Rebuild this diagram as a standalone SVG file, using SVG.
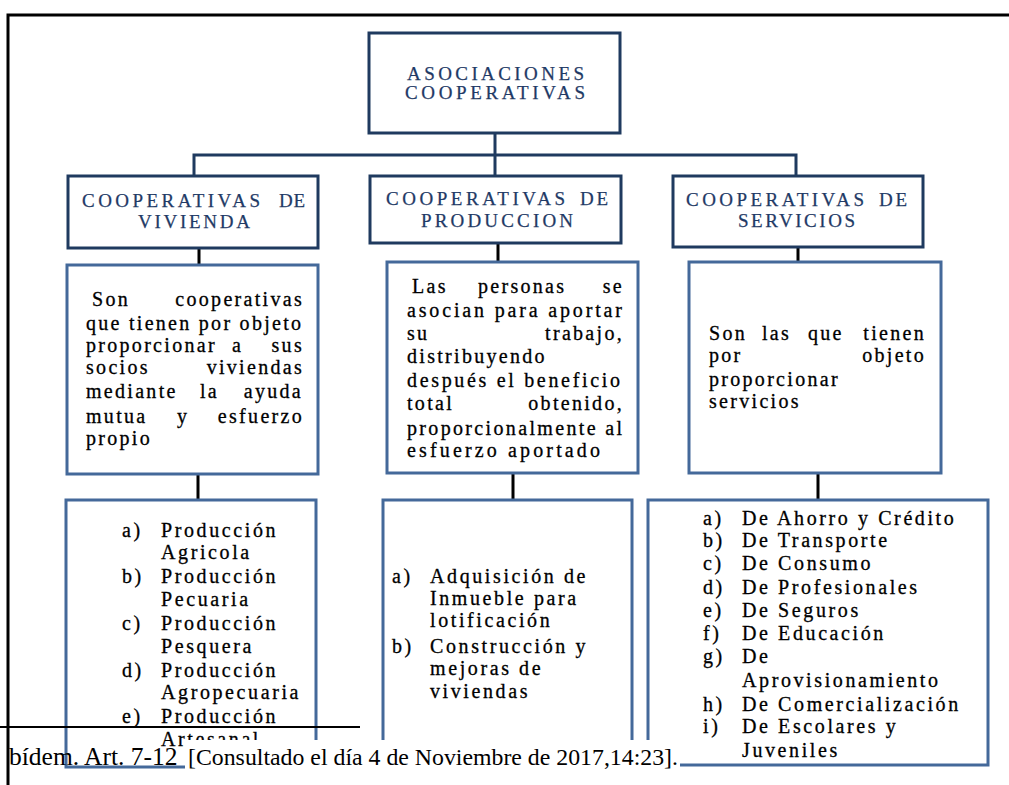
<svg xmlns="http://www.w3.org/2000/svg" width="1009" height="785" viewBox="0 0 1009 785">
  <defs>
    <style>
      .hbox{fill:#fff;stroke:#1f3a5f;stroke-width:3}
      .bbox{fill:#fff;stroke:#44699a;stroke-width:3}
      .bus{fill:none;stroke:#1f3a5f;stroke-width:3}
      .stem{fill:none;stroke:#000;stroke-width:3}
      .h{font-family:"Liberation Serif","Times New Roman",serif;font-size:19px;fill:#1f3a66;stroke:#1f3a66;stroke-width:0.25}
      .b{font-family:"Liberation Serif","Times New Roman",serif;font-size:20px;fill:#000;letter-spacing:2.3px;stroke:#000;stroke-width:0.3}
      .j{font-family:"Liberation Serif","Times New Roman",serif;font-size:20px;fill:#000;stroke:#000;stroke-width:0.3}
      .l{font-family:"Liberation Serif","Times New Roman",serif;font-size:20px;fill:#000;letter-spacing:2.6px;stroke:#000;stroke-width:0.3}
      .end{text-anchor:end}
      .fn{font-family:"Liberation Serif","Times New Roman",serif;fill:#000}
    </style>
  </defs>

  <rect x="0" y="0" width="1009" height="785" fill="#fff"/>

  <!-- connectors -->
  <g id="connectors">
    <path class="bus" d="M495,133 V176 M194,176 V155 H796 V176"/>
    <path class="stem" d="M199,248 V265 M498,243 V262 M798,247 V262 M198,474 V500 M513,473 V500 M818,473 V500"/>
  </g>

  <!-- root -->
  <g id="root">
    <rect class="hbox" x="369" y="33" width="251" height="100"/>
    <text class="h" x="407" y="80" textLength="177" lengthAdjust="spacing">ASOCIACIONES</text>
    <text class="h" x="405" y="99" textLength="180" lengthAdjust="spacing">COOPERATIVAS</text>
  </g>

  <!-- second level -->
  <g id="vivienda">
    <rect class="hbox" x="68" y="176" width="250" height="72"/>
    <text class="h" x="82" y="207" textLength="178" lengthAdjust="spacing">COOPERATIVAS</text>
    <text class="h" x="279" y="207" textLength="26" lengthAdjust="spacing">DE</text>
    <text class="h" x="138" y="228" textLength="112" lengthAdjust="spacing">VIVIENDA</text>
  </g>
  <g id="produccion">
    <rect class="hbox" x="370" y="176" width="251" height="67"/>
    <text class="h" x="386" y="205" textLength="179" lengthAdjust="spacing">COOPERATIVAS</text>
    <text class="h" x="580" y="205" textLength="28" lengthAdjust="spacing">DE</text>
    <text class="h" x="421" y="227" textLength="152" lengthAdjust="spacing">PRODUCCION</text>
  </g>
  <g id="servicios">
    <rect class="hbox" x="673" y="176" width="250" height="71"/>
    <text class="h" x="686" y="206" textLength="178" lengthAdjust="spacing">COOPERATIVAS</text>
    <text class="h" x="879" y="206" textLength="28" lengthAdjust="spacing">DE</text>
    <text class="h" x="738" y="227" textLength="117" lengthAdjust="spacing">SERVICIOS</text>
  </g>

  <!-- descriptions -->
  <g id="desc-vivienda">
    <rect class="bbox" x="67" y="265" width="251" height="209"/>
    <text class="b" x="92" y="306">Son</text>
    <text class="b end" x="304" y="306">cooperativas</text>
    <text class="j" x="86" y="330" textLength="215" lengthAdjust="spacing">que tienen por objeto</text>
    <text class="b" x="86" y="352">proporcionar</text>
    <text class="b" x="232" y="352">a</text>
    <text class="b end" x="304" y="352">sus</text>
    <text class="b" x="86" y="374">socios</text>
    <text class="b end" x="304" y="374">viviendas</text>
    <text class="b" x="86" y="398">mediante</text>
    <text class="b" x="200" y="398">la</text>
    <text class="b end" x="303" y="398">ayuda</text>
    <text class="b" x="86" y="423">mutua</text>
    <text class="b" x="177" y="423">y</text>
    <text class="b end" x="304" y="423">esfuerzo</text>
    <text class="b" x="86" y="445">propio</text>
  </g>
  <g id="desc-produccion">
    <rect class="bbox" x="387" y="262" width="251" height="211"/>
    <text class="b" x="412" y="293">Las</text>
    <text class="b" x="478" y="293">personas</text>
    <text class="b end" x="624" y="293">se</text>
    <text class="j" x="407" y="317" textLength="215" lengthAdjust="spacing">asocian para aportar</text>
    <text class="b" x="407" y="340">su</text>
    <text class="b end" x="624" y="340">trabajo,</text>
    <text class="b" x="407" y="363">distribuyendo</text>
    <text class="j" x="407" y="387" textLength="213" lengthAdjust="spacing">después el beneficio</text>
    <text class="b" x="407" y="410">total</text>
    <text class="b end" x="624" y="410">obtenido,</text>
    <text class="j" x="407" y="435" textLength="215" lengthAdjust="spacing">proporcionalmente al</text>
    <text class="j" x="407" y="457" textLength="193" lengthAdjust="spacing">esfuerzo aportado</text>
  </g>
  <g id="desc-servicios">
    <rect class="bbox" x="689" y="262" width="252" height="211"/>
    <text class="b" x="709" y="340">Son</text>
    <text class="b" x="762" y="340">las</text>
    <text class="b" x="808" y="340">que</text>
    <text class="b end" x="926" y="340">tienen</text>
    <text class="b" x="709" y="362">por</text>
    <text class="b end" x="926" y="362">objeto</text>
    <text class="b" x="709" y="386">proporcionar</text>
    <text class="b" x="709" y="408">servicios</text>
  </g>

  <!-- lists -->
  <g id="list-vivienda">
    <rect class="bbox" x="66" y="500" width="250" height="267"/>
    <text class="l" x="122" y="537">a)</text><text class="l" x="161" y="537">Producción</text>
    <text class="l" x="161" y="559">Agricola</text>
    <text class="l" x="122" y="583">b)</text><text class="l" x="161" y="583">Producción</text>
    <text class="l" x="161" y="606">Pecuaria</text>
    <text class="l" x="122" y="630">c)</text><text class="l" x="161" y="630">Producción</text>
    <text class="l" x="161" y="653">Pesquera</text>
    <text class="l" x="122" y="677">d)</text><text class="l" x="161" y="677">Producción</text>
    <text class="l" x="161" y="699">Agropecuaria</text>
    <text class="l" x="122" y="723">e)</text><text class="l" x="161" y="723">Producción</text>
    <text class="l" x="161" y="746">Artesanal</text>
  </g>
  <g id="list-produccion">
    <rect class="bbox" x="383" y="500" width="249" height="267"/>
    <text class="l" x="392" y="583">a)</text><text class="l" x="430" y="583">Adquisición de</text>
    <text class="l" x="430" y="605">Inmueble para</text>
    <text class="l" x="430" y="627">lotificación</text>
    <text class="l" x="392" y="653">b)</text><text class="l" x="430" y="653">Construcción y</text>
    <text class="l" x="430" y="675">mejoras de</text>
    <text class="l" x="430" y="698">viviendas</text>
  </g>
  <g id="list-servicios">
    <rect class="bbox" x="648" y="500" width="340" height="265"/>
    <text class="l" x="703" y="525">a)</text><text class="l" x="742" y="525">De Ahorro y Crédito</text>
    <text class="l" x="703" y="547">b)</text><text class="l" x="742" y="547">De Transporte</text>
    <text class="l" x="703" y="570">c)</text><text class="l" x="742" y="570">De Consumo</text>
    <text class="l" x="703" y="594">d)</text><text class="l" x="742" y="594">De Profesionales</text>
    <text class="l" x="703" y="617">e)</text><text class="l" x="742" y="617">De Seguros</text>
    <text class="l" x="703" y="640">f)</text><text class="l" x="742" y="640">De Educación</text>
    <text class="l" x="703" y="663">g)</text><text class="l" x="742" y="663">De</text>
    <text class="l" x="742" y="687">Aprovisionamiento</text>
    <text class="l" x="703" y="711">h)</text><text class="l" x="742" y="711">De Comercialización</text>
    <text class="l" x="703" y="733">i)</text><text class="l" x="742" y="733">De Escolares y</text>
    <text class="l" x="742" y="757">Juveniles</text>
  </g>

  <!-- footnote area -->
  <g id="footnote">
    <rect x="185" y="740" width="495" height="45" fill="#fff"/>
    <line x1="0" y1="727" x2="360" y2="727" stroke="#000" stroke-width="2"/>
    <text class="fn" x="9" y="765" font-size="25.5">bídem. Art. 7-12</text>
    <text class="fn" x="188" y="765" font-size="23.8" textLength="490" lengthAdjust="spacing">[Consultado el día 4 de Noviembre de 2017,14:23].</text>
  </g>

  <!-- page frame -->
  <path d="M8,785 V15 H1009" fill="none" stroke="#000" stroke-width="3"/>
</svg>
